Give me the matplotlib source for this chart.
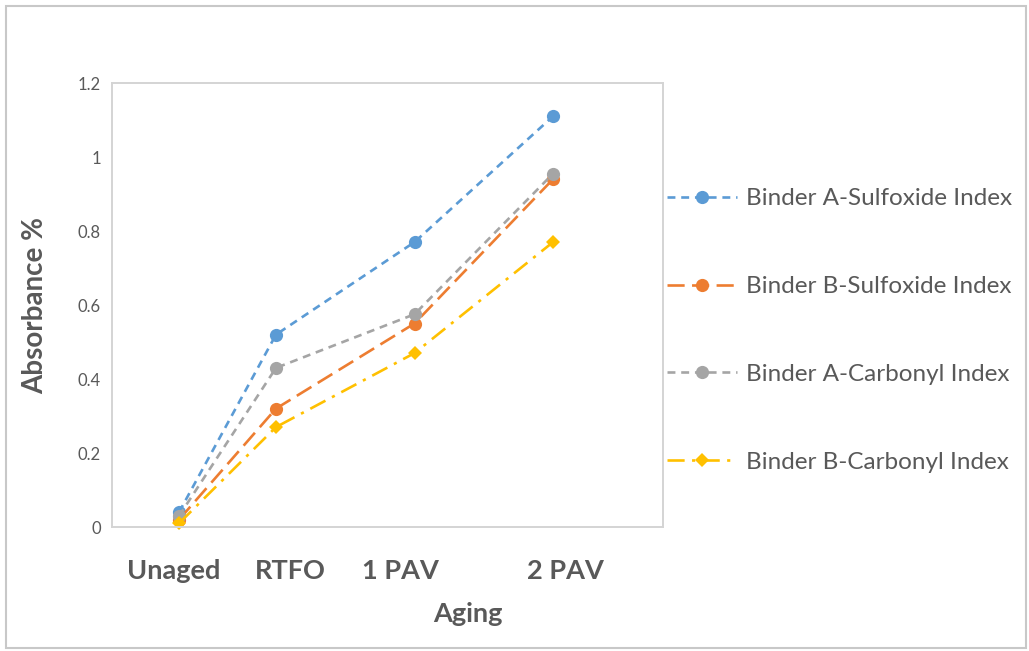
import matplotlib
matplotlib.use("Agg")
import matplotlib.pyplot as plt
from matplotlib.patches import Rectangle

# Aging stages and measured absorbance indices
stages = ["Unaged", "RTFO", "1 PAV", "2 PAV"]
stage_x = [0.3, 1.0, 2.0, 3.0]          # position of each stage along the aging axis
label_x = [0.26, 1.10, 1.90, 3.09]      # where the stage names are written

a_sulfoxide = [0.04, 0.52, 0.77, 1.11]
b_sulfoxide = [0.02, 0.32, 0.55, 0.94]
a_carbonyl = [0.03, 0.43, 0.575, 0.955]
b_carbonyl = [0.01, 0.27, 0.47, 0.77]

series_names = [
    "Binder A-Sulfoxide Index",
    "Binder B-Sulfoxide Index",
    "Binder A-Carbonyl Index",
    "Binder B-Carbonyl Index",
]
y_ticks = [0, 0.2, 0.4, 0.6, 0.8, 1.0, 1.2]
y_tick_labels = ["0", "0.2", "0.4", "0.6", "0.8", "1", "1.2"]

plt.rcParams["font.family"] = ["Lato", "DejaVu Sans"]
text_grey = "#595959"

W, H = 1029, 651
fig = plt.figure(figsize=(W / 100, H / 100), dpi=100)
fig.patch.set_facecolor("white")

# plot area in pixel terms: x 112..663, y 83..527
ax = fig.add_axes([112 / W, (H - 527) / H, (663 - 112) / W, (527 - 83) / H])

styles = [
    dict(color="#5B9BD5", dashes=(3.0, 2.2), marker="o", ms=9.5),
    dict(color="#ED7D31", dashes=(6.5, 2.8), marker="o", ms=9.5),
    dict(color="#A5A5A5", dashes=(3.0, 2.2), marker="o", ms=9.5),
    dict(color="#FFC000", dashes=(6.5, 2.8, 1.2, 2.8), marker="D", ms=7.5),
]
values = [a_sulfoxide, b_sulfoxide, a_carbonyl, b_carbonyl]

for vals, name, st in zip(values, series_names, styles):
    ax.plot(stage_x, vals, color=st["color"], lw=1.9, dashes=st["dashes"],
            marker=st["marker"], markersize=st["ms"], markeredgewidth=0,
            label=name, clip_on=False)

ax.set_xlim(-0.184, 3.794)
ax.set_ylim(0, 1.2)
ax.set_yticks(y_ticks)
ax.set_yticklabels(y_tick_labels)
ax.set_xticks(label_x)
ax.set_xticklabels(stages, fontweight="bold")

ax.tick_params(axis="y", length=0, pad=8, labelsize=12, labelcolor=text_grey)
ax.tick_params(axis="x", length=0, pad=23, labelsize=19.5, labelcolor=text_grey)

for sp in ax.spines.values():
    sp.set_color("#d4d4d4")
    sp.set_linewidth(1.4)

ax.set_ylabel("Absorbance %", fontsize=20, fontweight="bold", color=text_grey)
ax.yaxis.set_label_coords(-0.115, 0.5)
ax.set_xlabel("Aging", fontsize=19.5, fontweight="bold", color=text_grey)
ax.xaxis.set_label_coords(0.646, -0.168)

leg = fig.legend(loc="center left", bbox_to_anchor=(667 / W, (H - 330.5) / H),
                 frameon=False, fontsize=17.5, labelcolor=text_grey,
                 handlelength=2.9, handletextpad=0.35, labelspacing=2.75,
                 borderpad=0, borderaxespad=0, numpoints=1)

# thin frame around the whole chart
fig.patches.append(Rectangle((6 / W, 3 / H), (W - 9) / W, (H - 9) / H,
                             transform=fig.transFigure, fill=False,
                             edgecolor="#c8c8c8", linewidth=1.5))

fig.savefig("out.png", dpi=100)
